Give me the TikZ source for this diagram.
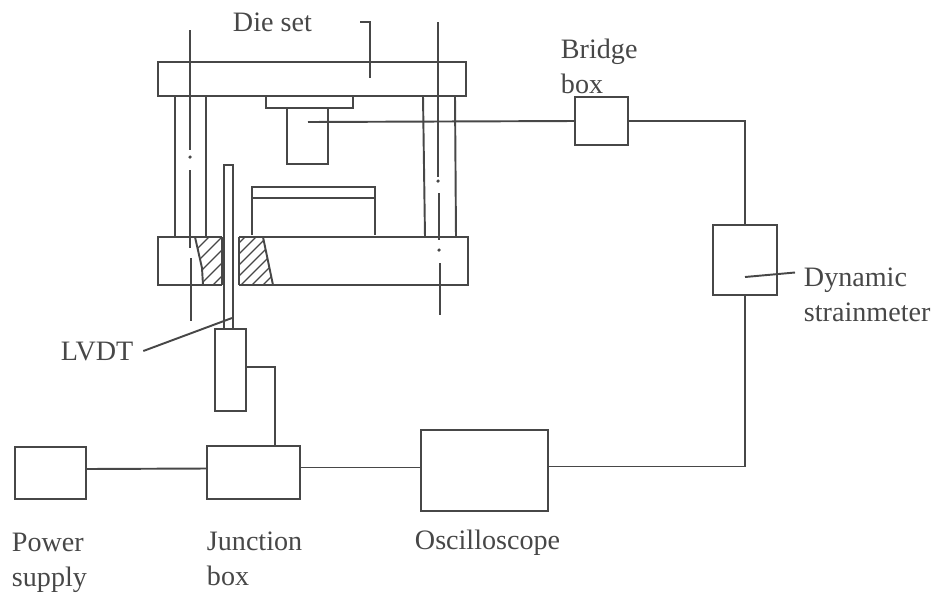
\documentclass[tikz,border=0pt]{standalone}
\usepackage{fontspec}
\setmainfont{Liberation Serif}
\usetikzlibrary{calc}

\definecolor{ink}{gray}{0.28}

\begin{document}
\begin{tikzpicture}[x=0.02cm,y=-0.02cm,line width=1.1pt,draw=ink,
    box/.style={draw,rectangle,inner sep=0pt},
    label text/.style={anchor=west,inner sep=0pt,align=left,text=ink,
        font=\fontsize{16}{19.9}\selectfont},
    thin hatch/.style={line width=0.7pt}
]

\useasboundingbox (0,0) rectangle (941,593);

% Top and bottom plates
\draw (158,62) rectangle (466,96);
\draw (222,237) -- (158,237) -- (158,285) -- (222,285);
\draw (239,237) -- (468,237) -- (468,285) -- (239,285);

% Guide pillars
\draw (175,96) -- (175,237);
\draw (206,96) -- (206,237);
\draw (423,96) -- (425,237);
\draw (455,96) -- (456,237);

% Centre lines, broken by hand
\draw (190,30) -- (190,150);
\fill[ink] (190,157) circle (1pt);
\draw (190,170) -- (190,248);
\draw (191,258) -- (191,321);
\draw (438,22) -- (438,177);
\fill[ink] (438,181) circle (1pt);
\draw (439,193) -- (439,240);
\fill[ink] (439,250) circle (1pt);
\draw (440,263) -- (440,315);

% Punch and its plate
\draw (266,96) -- (266,108) -- (353,108) -- (353,96);
\node[box,minimum width=0.82cm,minimum height=1.12cm] (punch) at (307.5,136) {};
\coordinate (punchtap) at (308,122);

% Die
\draw (252,235) -- (252,187) -- (375,187) -- (375,235);
\draw (252,198) -- (375,198);

% Hatched inserts
\begin{scope}[thin hatch]
    \clip (195,237) -- (202,268) -- (203,285) -- (222,285) -- (222,237) -- cycle;
    \foreach \i in {-60,-47,...,40} {
        \draw (190+\i,290) -- (190+\i+60,230);
    }
\end{scope}
\begin{scope}[thin hatch]
    \clip (239,237) -- (263,237) -- (273,285) -- (239,285) -- cycle;
    \foreach \i in {-20,-9,...,90} {
        \draw (190+\i,290) -- (190+\i+60,230);
    }
\end{scope}
\draw (195,237) -- (202,268) -- (203,285);
\draw (222,237) -- (222,285);
\draw (239,237) -- (239,285);
\draw (263,237) -- (273,285);

% LVDT rod and body
\node[box,minimum width=0.18cm,minimum height=3.28cm] (rod) at (228.5,247) {};
\node[box,minimum width=0.62cm,minimum height=1.64cm] (lvdt) at (230.5,370) {};

% Blocks
\node[box,minimum width=1.06cm,minimum height=0.96cm] (bridge) at (601.5,121) {};
\node[box,minimum width=1.28cm,minimum height=1.40cm] (strain) at (745,260) {};
\node[box,minimum width=2.54cm,minimum height=1.62cm] (scope) at (484.5,470.5) {};
\node[box,minimum width=1.86cm,minimum height=1.06cm] (junction) at (253.5,472.5) {};
\node[box,minimum width=1.42cm,minimum height=1.04cm] (power) at (50.5,473) {};

% Wiring
\draw (punchtap) -- (bridge.west);
\draw (bridge.east) -| (strain.north);
\draw (strain.south) |- ($(scope.east)+(0,-4)$);
\draw ($(scope.west)+(0,-3)$) -- ($(junction.east)+(0,-5)$);
\draw ($(power.east)+(0,-4)$) -- ($(junction.west)+(0,-4)$);
\draw ($(lvdt.east)+(0,-3)$) -| ($(junction.north)+(21.5,0)$);

% Labels
\node[label text] (dieset) at (232,22) {Die set};
\node[label text] (bridgelabel) at (560,66.5) {Bridge\\box};
\node[label text] (strainlabel) at (803,294.5) {Dynamic\\strainmeter};
\node[label text] (lvdtlabel) at (60,352) {LVDT};
\node[label text] (powerlabel) at (11,563) {Power\\supply};
\node[label text] (junctionlabel) at (206,558.5) {Junction\\box};
\node[label text] (scopelabel) at (414,543) {Oscilloscope};

% Leaders
\coordinate (dietick) at (360,22);
\coordinate (dietip) at (370,78);
\coordinate (rodtip) at (232,318);
\coordinate (straintip) at (745,277);
\draw (dietick) -| (dietip);
\draw (lvdtlabel.east) ++(9,-1) -- (rodtip);
\draw (straintip) -- ($(strainlabel.west)+(-8,-22)$);

\end{tikzpicture}
\end{document}
